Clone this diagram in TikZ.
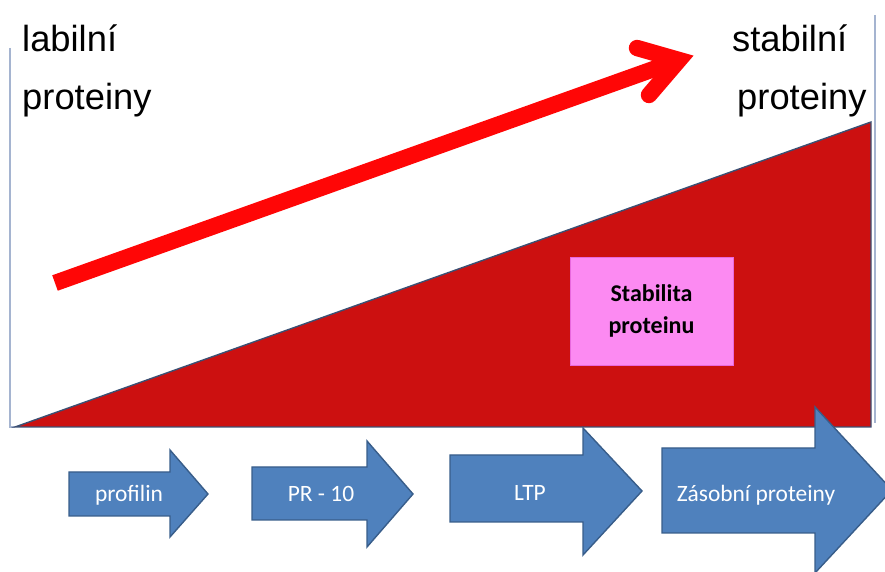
\documentclass[tikz,border=0pt]{standalone}
\usepackage{fontspec}
\setmainfont{Liberation Sans}
\newfontfamily\calibri{Carlito}
\usepackage{tikz}
\usetikzlibrary{calc}
\definecolor{trired}{RGB}{204,16,16}
\definecolor{arrowred}{RGB}{255,6,6}
\definecolor{boxpink}{RGB}{252,138,242}
\definecolor{boxedge}{RGB}{232,104,222}
\definecolor{stepblue}{RGB}{79,129,189}
\definecolor{stepedge}{RGB}{56,93,138}
\definecolor{axisgray}{RGB}{165,180,208}
\definecolor{triedge}{RGB}{60,80,115}
\tikzset{
  steparrow/.style={fill=stepblue,draw=stepedge,line width=1.2pt,line join=miter},
  steplabel/.style={text=white,font=\calibri\fontsize{20}{24}\selectfont,inner sep=0pt},
  biglabel/.style={font=\fontsize{31}{37}\selectfont,inner sep=0pt,anchor=base west},
  redarrow/.style={arrowred,line width=14pt},
}

\begin{document}
\begin{tikzpicture}[x=0.03cm,y=-0.03cm]
      \useasboundingbox (0,0) rectangle (885,572);
      % frame and stability wedge
      \draw[axisgray,line width=1pt] (10,48) -- (10,427) -- (15,427);
      \draw[axisgray,line width=1pt] (875,15) -- (875,423);
      \filldraw[fill=trired,draw=triedge,line width=1.2pt] (15,427) -- (871,122) -- (871,427) -- cycle;
      \node[draw=boxedge,fill=boxpink,line width=0.8pt,minimum width=4.89cm,minimum height=3.24cm,
            align=center,font=\calibri\bfseries\fontsize{20.5}{27}\selectfont] (stab) at (651.5,311) {Stabilita\\proteinu};
      % trend arrow
      \coordinate (tail) at (55,283);
      \coordinate (apex) at (679,60);
      \draw[redarrow] (tail) -- (apex);
      \draw[redarrow,line cap=round,line join=miter] (637,48) -- (apex) -- (649,95);
      % labels
      \node[biglabel] (lab1) at (22,52) {labilní};
      \node[biglabel] (lab2) at (22,110) {proteiny};
      \node[biglabel] (sta1) at (732,52) {stabilní};
      \node[biglabel] (sta2) at (737,110) {proteiny};
      % protein classes
      \filldraw[steparrow] (69,472) -- (170,472) -- (170,450) -- (208,494) -- (170,537) -- (170,516) -- (69,516) -- cycle;
      \filldraw[steparrow] (252,467) -- (367,467) -- (367,441) -- (413,494) -- (367,547) -- (367,520) -- (252,520) -- cycle;
      \filldraw[steparrow] (450,455) -- (583,455) -- (583,428) -- (642,491) -- (583,555) -- (583,522) -- (450,522) -- cycle;
      \filldraw[steparrow] (662,448) -- (815,448) -- (815,407) -- (892,490) -- (815,573) -- (815,533) -- (662,533) -- cycle;
      \node[steplabel] (prof) at (129,495) {profilin};
      \node[steplabel] (pr10) at (321,494) {PR - 10};
      \node[steplabel] (ltp) at (530,493) {LTP};
      \node[steplabel] (zas) at (756,495) {Zásobní proteiny};
\end{tikzpicture}
\end{document}
